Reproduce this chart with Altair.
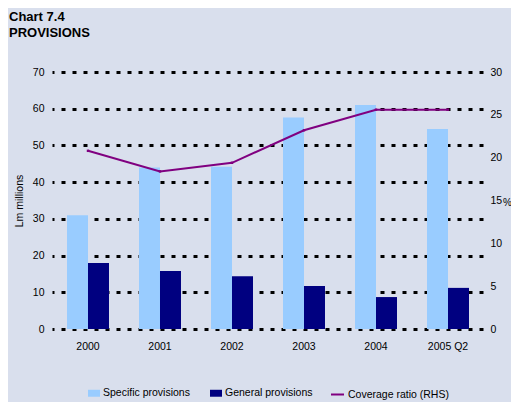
import altair as alt
import pandas as pd

years = ["2000", "2001", "2002", "2003", "2004", "2005 Q2"]
specific = [31.0, 44.0, 44.2, 57.6, 61.0, 54.5]
general = [18.0, 15.8, 14.4, 11.7, 8.7, 11.2]
coverage = [20.8, 18.4, 19.4, 23.2, 25.6, 25.6]
series_names = ["Specific provisions", "General provisions"]
line_name = "Coverage ratio (RHS)"
left_ticks = [0, 10, 20, 30, 40, 50, 60, 70]
right_ticks = [0, 5, 10, 15, 20, 25, 30]

bars_df = pd.DataFrame({
    "year": years * 2,
    "series": [series_names[0]] * len(years) + [series_names[1]] * len(years),
    "value": specific + general,
})
line_df = pd.DataFrame({"year": years, "series": line_name, "value": coverage})

FONT = "Liberation Sans"
BG = "#D9DFED"

x_bar = alt.X(
    "year:N", sort=years,
    scale=alt.Scale(paddingInner=0.4167, paddingOuter=0.2083),
    axis=alt.Axis(title=None, labelAngle=0, domain=False, ticks=False, tickSize=0,
                  labelPadding=12, grid=False, labelFont=FONT, labelFontSize=10.5,
                  labelColor="black"),
)

bar = alt.Chart(bars_df).mark_bar().encode(
    x=x_bar,
    xOffset=alt.XOffset("series:N", sort=series_names),
    y=alt.Y(
        "value:Q",
        scale=alt.Scale(domain=[0, 70], nice=False, zero=True),
        axis=alt.Axis(values=left_ticks, title="Lm millions", domain=False, ticks=False,
                      tickSize=0, labelPadding=8, grid=True, gridColor="black",
                      gridWidth=3, gridDash=[4, 7], gridDashOffset=2,
                      labelFont=FONT, labelFontSize=10.5, labelColor="black",
                      titleFont=FONT, titleFontSize=10.5, titleFontWeight="normal",
                      titleColor="black", titleX=-33, titleY=128.5,
                      titleAlign="center", titleBaseline="middle"),
    ),
    color=alt.Color(
        "series:N",
        scale=alt.Scale(domain=series_names, range=["#99CCFF", "#000080"]),
        legend=alt.Legend(
            title=None, orient="none", legendX=36, legendY=315, direction="horizontal",
            symbolType="M-1,-0.58H1V0.58H-1Z", symbolSize=144, symbolStrokeWidth=0,
            labelFont=FONT, labelFontSize=10.5, labelColor="black", labelOffset=3,
            columnPadding=20, padding=0,
        ),
    ),
)

y_right = alt.Y(
    "value:Q",
    scale=alt.Scale(domain=[0, 30], nice=False, zero=True),
    axis=alt.Axis(orient="right", values=right_ticks, title="%", domain=False, ticks=False,
                  tickSize=0, labelPadding=6, grid=False, labelFont=FONT,
                  labelFontSize=10.5, labelColor="black", titleFont=FONT,
                  titleFontSize=10, titleFontWeight="normal", titleColor="black",
                  titleAngle=0, titleX=18.5, titleY=130, titleAlign="left",
                  titleBaseline="middle"),
)

line = alt.Chart(line_df).mark_line(
    strokeWidth=2,
    point=alt.OverlayMarkDef(shape="square", size=6, filled=True, fill="#800080",
                             stroke="#800080", strokeWidth=0),
).encode(
    x=alt.X("year:N", sort=years),
    y=y_right,
    stroke=alt.Stroke(
        "series:N",
        scale=alt.Scale(domain=[line_name], range=["#800080"]),
        legend=alt.Legend(
            title=None, orient="none", legendX=278, legendY=315, direction="horizontal",
            symbolType="stroke", symbolSize=169, symbolStrokeWidth=2,
            labelFont=FONT, labelFontSize=10.5, labelColor="black", labelOffset=3,
            padding=0,
        ),
    ),
)

chart = alt.layer(bar, line).resolve_scale(
    y="independent"
).properties(
    width=432,
    height=257,
    background=BG,
    padding={"left": 44, "top": 64, "right": 27, "bottom": 73},
    autosize=alt.AutoSizeParams(type="none"),
    title=alt.TitleParams(
        text="Chart 7.4", subtitle="PROVISIONS", anchor="start", font=FONT, fontSize=13,
        fontWeight="bold", color="black", subtitleFont=FONT, subtitleFontSize=13,
        subtitleFontWeight="bold", subtitleColor="black", subtitlePadding=3,
        dx=-5, offset=27,
    ),
).configure_view(stroke=None)

chart.save("out.html", embed_options={"renderer": "svg", "actions": False})
